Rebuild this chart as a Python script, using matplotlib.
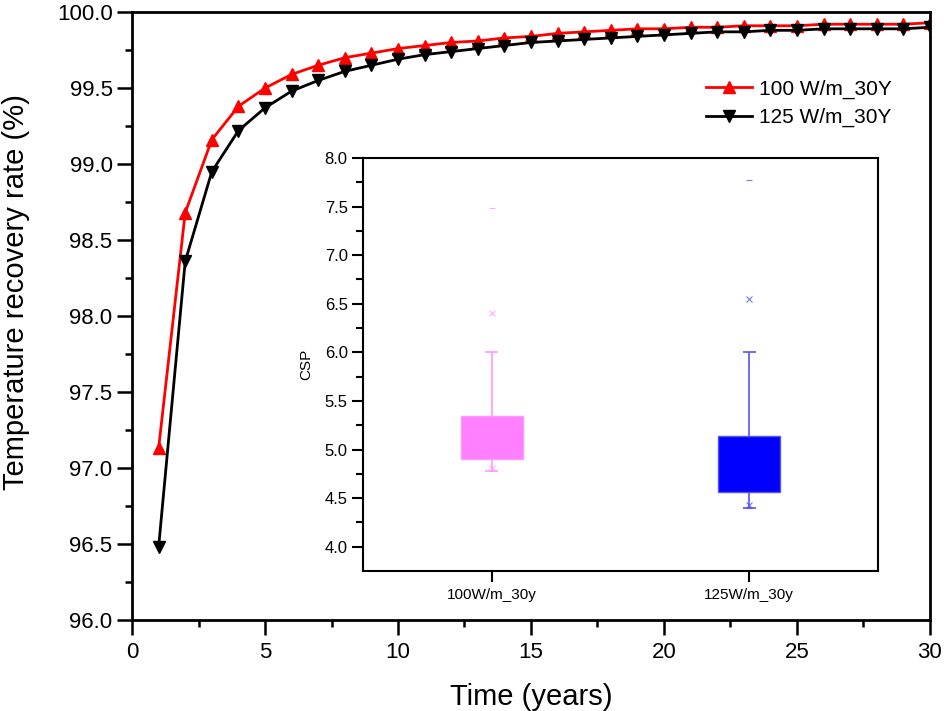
import matplotlib
matplotlib.use("Agg")
import matplotlib.pyplot as plt
import numpy as np

plt.rcParams["font.family"] = ["Liberation Sans", "DejaVu Sans"]

# recovery rate (%) per year
years = list(range(1, 31))
rate_100 = [97.13, 98.68, 99.16, 99.38, 99.50, 99.59, 99.65, 99.70, 99.73, 99.76,
            99.78, 99.80, 99.81, 99.83, 99.84, 99.86, 99.87, 99.88, 99.89, 99.89,
            99.90, 99.90, 99.91, 99.91, 99.91, 99.92, 99.92, 99.92, 99.92, 99.93]
rate_125 = [96.48, 98.36, 98.95, 99.22, 99.37, 99.48, 99.55, 99.61, 99.65, 99.69,
            99.72, 99.74, 99.76, 99.78, 99.80, 99.81, 99.82, 99.83, 99.84, 99.85,
            99.86, 99.87, 99.87, 99.88, 99.88, 99.89, 99.89, 99.89, 99.89, 99.90]
series_labels = ["100 W/m_30Y", "125 W/m_30Y"]

# CSP box statistics (Origin style: 1%/99% as x, min/max as dash)
box_labels = ["100W/m_30y", "125W/m_30y"]
box_q1 = [4.90, 4.56]
box_q3 = [5.34, 5.14]
whisk_lo = [4.78, 4.40]
whisk_hi = [6.00, 6.00]
pct_lo = [4.81, 4.43]
pct_hi = [6.40, 6.55]
csp_min = [4.78, 4.40]
csp_max = [7.49, 7.77]
box_fill = ["#ff80ff", "#0000ff"]
box_line = ["#ff99ff", "#5555ee"]

fig = plt.figure(figsize=(9.45, 7.11), dpi=100)
ax = fig.add_axes([0.1397, 0.128, 0.8444, 0.855])

ax.plot(years, rate_100, color="red", lw=2, marker="^", ms=8.5, label=series_labels[0])
ax.plot(years, rate_125, color="black", lw=2, marker="v", ms=8.5, label=series_labels[1])
ax.set_xlim(0, 30)
ax.set_ylim(96.0, 100.0)
ax.set_xticks(np.arange(0, 31, 5))
ax.set_xticks(np.arange(2.5, 30, 5), minor=True)
ax.set_yticks(np.arange(96.0, 100.01, 0.5))
ax.set_yticks(np.arange(96.25, 100, 0.5), minor=True)
ax.yaxis.set_major_formatter(matplotlib.ticker.FormatStrFormatter("%.1f"))
ax.tick_params(which="major", direction="out", length=11, width=1.8, labelsize=16)
ax.tick_params(which="minor", direction="out", length=5, width=1.8)
ax.tick_params(axis="x", pad=5)
ax.tick_params(axis="y", pad=3)
for s in ax.spines.values():
    s.set_linewidth(2)
ax.set_xlabel("Time (years)", fontsize=21, labelpad=14)
ax.set_ylabel("Temperature recovery rate (%)", fontsize=21)
ax.yaxis.set_label_coords(-0.128, 0.54)
ax.legend(loc="upper right", bbox_to_anchor=(0.975, 0.92), frameon=False,
          fontsize=15, handlelength=2.2, handletextpad=0.3, labelspacing=0.45)

ins = fig.add_axes([0.3841, 0.1969, 0.545, 0.5809])
pos = [1, 2]
w = 0.24
for i, p in enumerate(pos):
    ins.vlines(p, whisk_lo[i], box_q1[i], color=box_line[i], lw=1.2)
    ins.vlines(p, box_q3[i], whisk_hi[i], color=box_line[i], lw=1.2)
    ins.hlines([whisk_lo[i], whisk_hi[i]], p - 0.025, p + 0.025, color=box_line[i], lw=1.2)
    ins.bar(p, box_q3[i] - box_q1[i], bottom=box_q1[i], width=w,
            color=box_fill[i], edgecolor=box_line[i], lw=1.0)
    ins.plot([p, p], [pct_lo[i], pct_hi[i]], ls="none", marker="x", ms=4,
             color=box_line[i], mew=0.8, alpha=0.8)
    ins.plot([p, p], [csp_min[i], csp_max[i]], ls="none", marker="_", ms=5,
             color=box_line[i], mew=0.8, alpha=0.8)
ins.set_xlim(0.5, 2.5)
ins.set_ylim(3.75, 8.0)
ins.set_xticks(pos)
ins.set_xticklabels(box_labels)
ins.set_yticks(np.arange(4.0, 8.01, 0.5))
ins.set_yticks(np.arange(4.25, 8, 0.5), minor=True)
ins.yaxis.set_major_formatter(matplotlib.ticker.FormatStrFormatter("%.1f"))
ins.tick_params(which="major", direction="out", length=8, width=1.5)
ins.tick_params(which="minor", direction="out", length=5, width=1.5)
ins.tick_params(axis="y", labelsize=12, pad=3)
ins.tick_params(axis="x", labelsize=11, pad=4)
for s in ins.spines.values():
    s.set_linewidth(1.5)
ins.set_ylabel("CSP", fontsize=11, labelpad=8)

fig.savefig("out.png", dpi=100)
